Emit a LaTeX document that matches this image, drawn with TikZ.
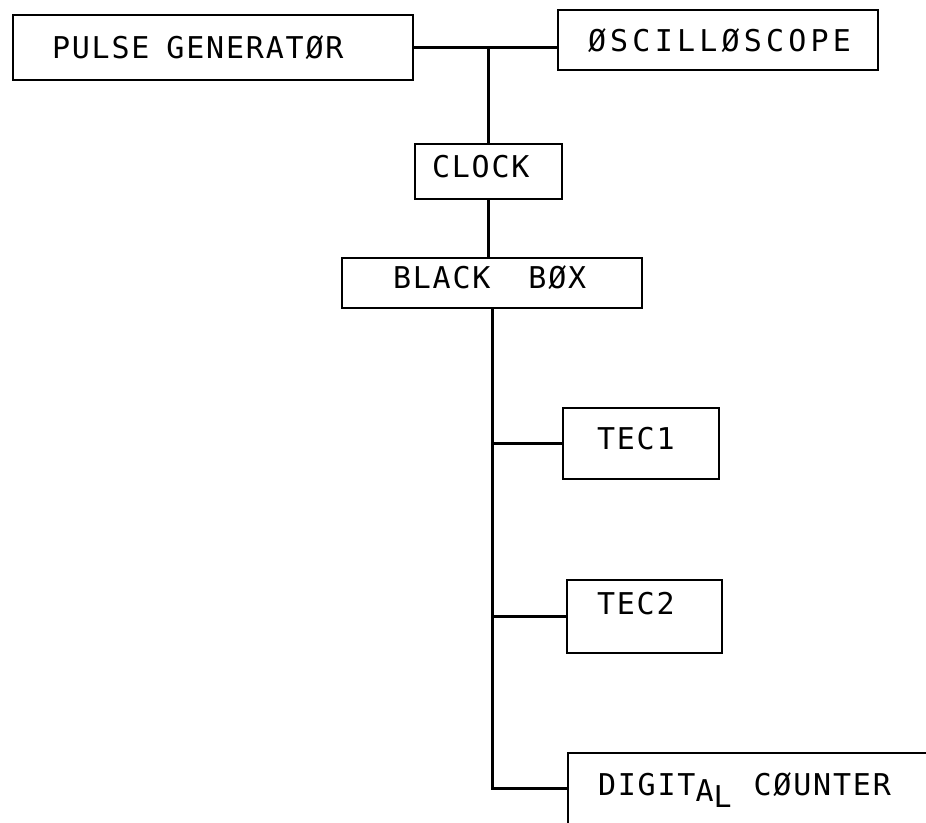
\documentclass[tikz,border=0pt]{standalone}
\usepackage{fontspec}
\newfontfamily\typewriter[LetterSpace=6]{DejaVu Sans Mono}
\newfontfamily\widetypewriter[LetterSpace=14]{DejaVu Sans Mono}
\usetikzlibrary{calc}

\begin{document}
\begin{tikzpicture}[x=1pt, y=-1pt,
  unit/.style={draw, line width=2.4pt, rectangle, inner ysep=0pt, align=left,
    font=\typewriter\fontsize{30}{30}\selectfont, text height=22pt, text depth=0pt},
  wire/.style={line width=2.4pt}]
\useasboundingbox (0,0) rectangle (926,822);
% boxes
\node[unit, minimum height=65pt, inner xsep=39pt, text width=322pt] (pulse) at (213,47.5) {PULSE\hspace{17pt}GENERATØR};
\node[unit, minimum height=60pt, inner xsep=30pt, text width=260pt,
  font=\widetypewriter\fontsize{30}{30}\selectfont] (scope) at (718,40) {ØSCILLØSCOPE};
\node[unit, minimum height=55pt, inner xsep=17pt, text width=113pt, text depth=11pt] (clock) at (488.5,171.5) {CLOCK};
\node[unit, minimum height=50pt, inner xsep=51pt, text width=198pt, text depth=12pt] (black) at (492,283) {BLACK\hspace{38pt}BØX};
\node[unit, minimum height=71pt, inner xsep=34pt, text width=88pt, text depth=11pt] (tec1) at (641,443.5) {TEC1};
\node[unit, minimum height=73pt, inner xsep=30pt, text width=95pt, text depth=27pt] (tec2) at (644.5,616.5) {TEC2};
\node[unit, draw=none, minimum height=68pt, inner xsep=29pt, text width=299pt, text depth=8pt] (counter) at (747.5,788)
  {DIGIT\raisebox{-6pt}{A}\raisebox{-12pt}{L}\hspace{22pt}CØUNTER};
\draw[line width=2.4pt] (counter.north east) -- (counter.north west) -- (counter.south west);
% wiring
\draw[wire] (pulse.east) -- (pulse.east -| scope.west);
\draw[wire] (clock.north) -- (clock.north |- pulse.east);
\draw[wire] (clock.south) -- (clock.south |- black.north);
\draw[line width=3pt] (black.south) -- (black.south |- counter.west) -- (counter.west);
\foreach \t in {tec1,tec2}
  \draw[wire] (\t.west) -- (\t.west -| black.south);
\end{tikzpicture}
\end{document}
